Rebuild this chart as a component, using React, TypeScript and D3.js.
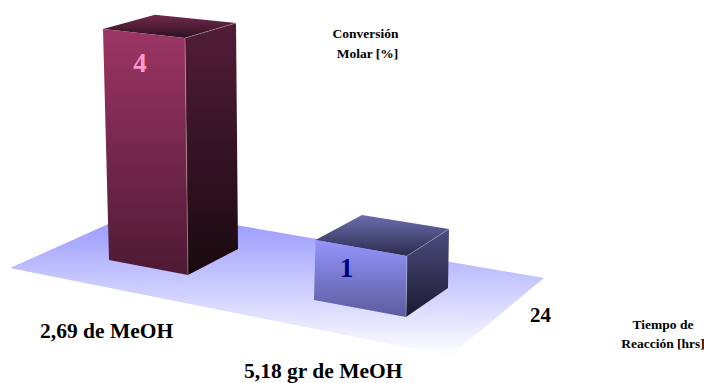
import React from "react";
import * as d3 from "d3";

// Chart data
const series = ["2,69 de MeOH", "5,18 gr de MeOH"];
const conversion = [4, 1];
const depthLabels = ["24"];
const valueTitle = ["Conversión", "Molar [%]"];
const depthTitle = ["Tiempo de", "Reacción [hrs]"];

type Pt = [number, number];

// Footprint corners of each column on the floor, with the pixel length of one
// unit of conversion at that corner (foreshortened by the perspective) and the
// horizontal drift of the vertical edges per unit.
const footprints: {
  fl: Pt; fr: Pt; br: Pt; bl: Pt;
  unit: [number, number, number, number];
  lean: [number, number, number, number];
}[] = [
  { fl: [109, 260], fr: [188, 275], br: [238, 249], bl: [160, 236], unit: [57.75, 59.25, 56.5, 55.3], lean: [-1.5, -0.75, -0.5, -1.25] },
  { fl: [314, 300], fr: [406, 317], br: [448, 288], bl: [361, 274], unit: [60, 61, 59, 59], lean: [1.5, 1, 1, 1] },
];

const palettes = [
  {
    front: ["#9c3565", "#4e1a33"],
    side: ["#521d38", "#190a0f"],
    top: ["#722a4c", "#2e1020"],
    label: "#ff99cc",
  },
  {
    front: ["#9494fc", "#5c5c9e"],
    side: ["#4c4c80", "#1a1a30"],
    top: ["#6c6cb0", "#2c2c4c"],
    label: "#000080",
  },
];

const floor: Pt[] = [[10, 268], [142, 209], [544, 278], [450, 356]];

const path = d3.line();

function Column({ index }: { index: number }) {
  const f = footprints[index];
  const value = conversion[index];
  const rise = (base: Pt, unit: number, lean: number): Pt => {
    const y = d3.scaleLinear().domain([0, 1]).range([base[1], base[1] - unit]);
    const x = d3.scaleLinear().domain([0, 1]).range([base[0], base[0] + lean]);
    return [x(value), y(value)];
  };
  const tfl = rise(f.fl, f.unit[0], f.lean[0]);
  const tfr = rise(f.fr, f.unit[1], f.lean[1]);
  const tbr = rise(f.br, f.unit[2], f.lean[2]);
  const tbl = rise(f.bl, f.unit[3], f.lean[3]);
  const id = `col${index}`;
  const labelX = d3.interpolateNumber(tfl[0], tfr[0])(index === 0 ? 0.45 : 0.34);
  const labelY = index === 0 ? tfl[1] + 43 : tfl[1] + 37;
  return (
    <g>
      <path d={path([tfl, tfr, tbr, tbl])!} fill={`url(#${id}-top)`} />
      <path d={path([tfr, tbr, f.br, f.fr])!} fill={`url(#${id}-side)`} />
      <path d={path([tfl, tfr, f.fr, f.fl])!} fill={`url(#${id}-front)`} />
      <path d={path([tfr, f.fr])!} stroke="#ffffff" strokeOpacity={0.3} fill="none" />
      <path d={path([tfr, tbr])!} stroke="#ffffff" strokeOpacity={0.25} fill="none" />
      <text
        x={labelX}
        y={labelY}
        textAnchor="middle"
        fontSize={27}
        fontWeight="bold"
        fill={palettes[index].label}
      >
        {value}
      </text>
    </g>
  );
}

function Gradient({ id, stops, y1, y2 }: { id: string; stops: string[]; y1: number; y2: number }) {
  return (
    <linearGradient id={id} gradientUnits="userSpaceOnUse" x1={0} x2={0} y1={y1} y2={y2}>
      <stop offset="0" stopColor={stops[0]} />
      <stop offset="1" stopColor={stops[1]} />
    </linearGradient>
  );
}

export default function App() {
  const extents = footprints.map((f, i) => {
    const v = conversion[i];
    const tops = [f.fl[1] - f.unit[0] * v, f.fr[1] - f.unit[1] * v, f.br[1] - f.unit[2] * v, f.bl[1] - f.unit[3] * v];
    return {
      front: [Math.min(tops[0], tops[1]), Math.max(f.fl[1], f.fr[1])],
      side: [Math.min(tops[1], tops[2]), Math.max(f.fr[1], f.br[1])],
      top: [Math.min(...tops), Math.max(...tops)],
    };
  });

  return (
    <svg
      width={704}
      height={383}
      viewBox="0 0 704 383"
      style={{ position: "absolute", left: 0, top: 0 }}
      fontFamily="'Liberation Serif', serif"
    >
      <defs>
        <linearGradient id="floor" gradientUnits="userSpaceOnUse" x1={0} x2={0} y1={209} y2={356}>
          <stop offset="0" stopColor="#9292ff" />
          <stop offset="1" stopColor="#ffffff" />
        </linearGradient>
        {palettes.map((p, i) => (
          <React.Fragment key={i}>
            <Gradient id={`col${i}-front`} stops={p.front} y1={extents[i].front[0]} y2={extents[i].front[1]} />
            <Gradient id={`col${i}-side`} stops={p.side} y1={extents[i].side[0]} y2={extents[i].side[1]} />
            <Gradient id={`col${i}-top`} stops={p.top} y1={extents[i].top[0]} y2={extents[i].top[1]} />
          </React.Fragment>
        ))}
      </defs>

      <path d={path(floor)! + "Z"} fill="url(#floor)" />
      {conversion.map((_, i) => (
        <Column key={i} index={i} />
      ))}

      <g fontWeight="bold" fill="#000">
        <text x={40} y={338} fontSize={21.5}>{series[0]}</text>
        <text x={244} y={378} fontSize={21.5}>{series[1]}</text>
        <text x={530} y={322} fontSize={21}>{depthLabels[0]}</text>
      </g>
      <g fontWeight="bold" fontSize={13.5} fill="#000" textAnchor="middle">
        <text x={365.5} y={38}>{valueTitle[0]}</text>
        <text x={367.5} y={58}>{valueTitle[1]}</text>
        {depthTitle.map((t, i) => (
          <text key={t} x={663} y={329 + i * 19}>{t}</text>
        ))}
      </g>
    </svg>
  );
}
